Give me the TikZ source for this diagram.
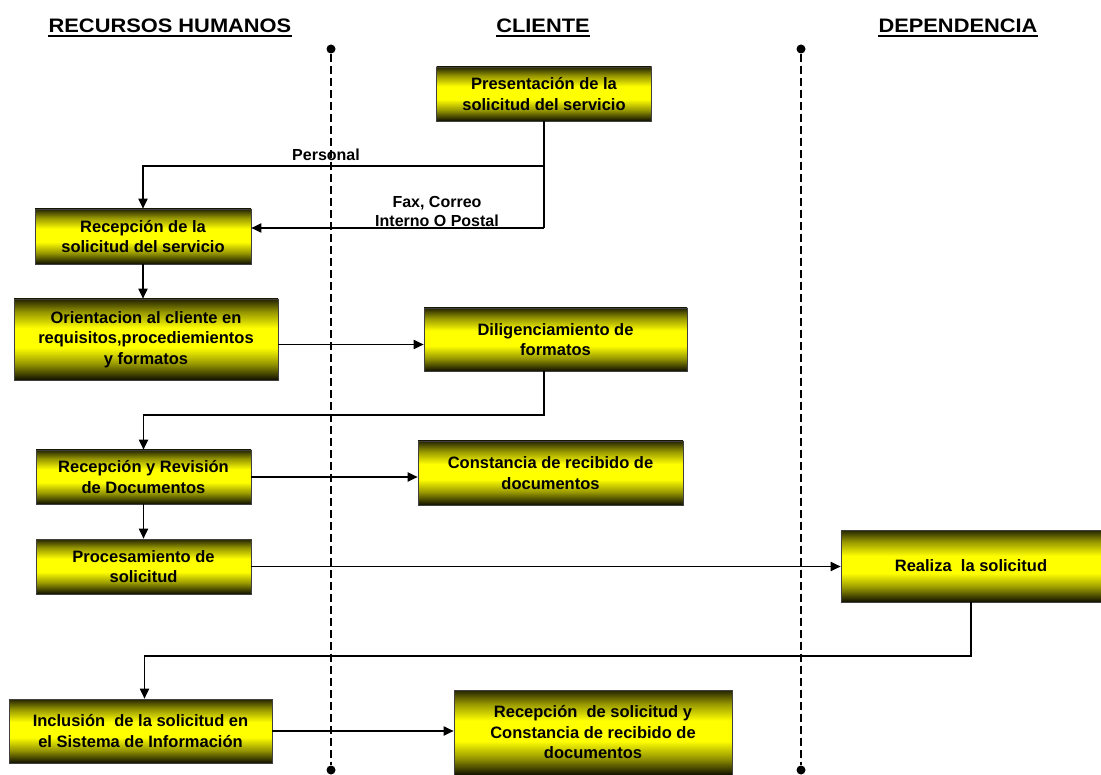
\documentclass[tikz,border=0pt]{standalone}
\usepackage{fontspec}
\setmainfont{Liberation Sans}
\usetikzlibrary{arrows.meta}

% box fill: dark olive rims fading to bright yellow in the middle
\definecolor{shtop}{RGB}{35,35,0}
\definecolor{shbot}{RGB}{15,15,0}
\definecolor{shlow}{RGB}{150,150,0}
\pgfdeclareverticalshading{boxshade}{100bp}{color(0bp)=(shbot); color(25bp)=(shbot); color(35bp)=(shlow); color(45bp)=(yellow); color(57bp)=(yellow); color(67bp)=(shlow); color(75bp)=(shtop); color(100bp)=(shtop)}

\tikzset{
  procbox/.style={shading=boxshade, draw=black!75, line width=0.6pt,
    align=center, inner sep=0pt,
    font=\bfseries\fontsize{16.5}{20.5}\selectfont},
  conn/.style={line width=1.8pt, -{Triangle[length=10pt,width=9pt]}},
  plain/.style={line width=1.8pt},
  lane/.style={line width=2.6pt, dash pattern=on 8pt off 4pt},
  lanedot/.style={circle, fill=black, inner sep=0pt, minimum size=9pt},
  hdr/.style={inner sep=0pt, font=\bfseries\fontsize{19.5}{22}\selectfont},
  lbl/.style={align=center, inner sep=0pt, font=\bfseries\fontsize{16}{19}\selectfont}
}

\begin{document}
\begin{tikzpicture}[x=1pt,y=-1pt]
\useasboundingbox (0,0) rectangle (1101,775);

% lane headers
\node[hdr] (hrh) at (170,26) {\scalebox{1.12}[1]{RECURSOS HUMANOS}};
\node[hdr] (hcl) at (543,26) {\scalebox{1.12}[1]{CLIENTE}};
\node[hdr] (hde) at (958,26) {\scalebox{1.12}[1]{DEPENDENCIA}};
\foreach \h in {hrh,hcl,hde}
  \draw[line width=2pt] ([yshift=-3.5pt]\h.base west) -- ([yshift=-3.5pt]\h.base east);

% lane separators
\node[lanedot] (l1t) at (331,49) {};
\node[lanedot] (l1b) at (331,770) {};
\node[lanedot] (l2t) at (801,49) {};
\node[lanedot] (l2b) at (801,770) {};
\draw[lane] (l1t) -- (l1b);
\draw[lane] (l2t) -- (l2b);

% process boxes
\node[procbox, minimum width=215pt, minimum height=54pt] (pres) at (544,94)
  {Presentación de la\\solicitud del servicio};
\node[procbox, minimum width=216pt, minimum height=55pt] (recep) at (143,236.5)
  {Recepción de la\\solicitud del servicio};
\node[procbox, minimum width=264pt, minimum height=81pt] (orient) at (146,339.5)
  {Orientacion al cliente en\\requisitos,procediemientos\\y formatos};
\node[procbox, minimum width=263pt, minimum height=63pt] (dilig) at (555.5,339.5)
  {Diligenciamiento de\\formatos};
\node[procbox, minimum width=215pt, minimum height=54pt] (revis) at (143.5,477)
  {Recepción y Revisión\\de Documentos};
\node[procbox, minimum width=265pt, minimum height=64pt] (const) at (550.5,473)
  {Constancia de recibido de\\documentos};
\node[procbox, minimum width=215pt, minimum height=55pt] (proc) at (143.5,566.5)
  {Procesamiento de\\solicitud};
\node[procbox, minimum width=260pt, minimum height=72pt] (real) at (971,566)
  {Realiza\ \ la solicitud};
\node[procbox, minimum width=263pt, minimum height=64pt] (incl) at (140.5,731)
  {Inclusión\ \ de la solicitud en\\el Sistema de Información};
\node[procbox, minimum width=278pt, minimum height=85pt] (recon) at (593,732.5)
  {Recepción\ \ de solicitud y\\Constancia de recibido de\\documentos};

% routing points
\coordinate (jp) at (544,166);
\coordinate (jf) at (544,228);
\coordinate (jd) at (544,415);
\coordinate (jr) at (971,656);

% connectors
\draw[plain] (pres.south) -- (jf);
\draw[conn] (jp) -| (recep.north);
\draw[conn] (jf) -- (recep.east |- jf);
\node[lbl] (lpers) at (326,155) {Personal};
\node[lbl] (lfax) at (437,211) {Fax, Correo\\Interno O Postal};

\draw[conn] (recep.south) -- (orient.north -| recep.south);
\draw[conn] ([yshift=-5pt]orient.east) -- ([yshift=-5pt]dilig.west);
\draw[conn] (jd |- dilig.south) -- (jd) -| (revis.north);
\draw[conn] (revis.east) -- (revis.east -| const.west);
\draw[conn] (revis.south) -- (proc.north);
\draw[conn] (proc.east) -- (proc.east -| real.west);
\draw[conn] (real.south) -- (jr) -| ([xshift=4pt]incl.north);
\draw[conn] (incl.east) -- (incl.east -| recon.west);
\end{tikzpicture}
\end{document}
